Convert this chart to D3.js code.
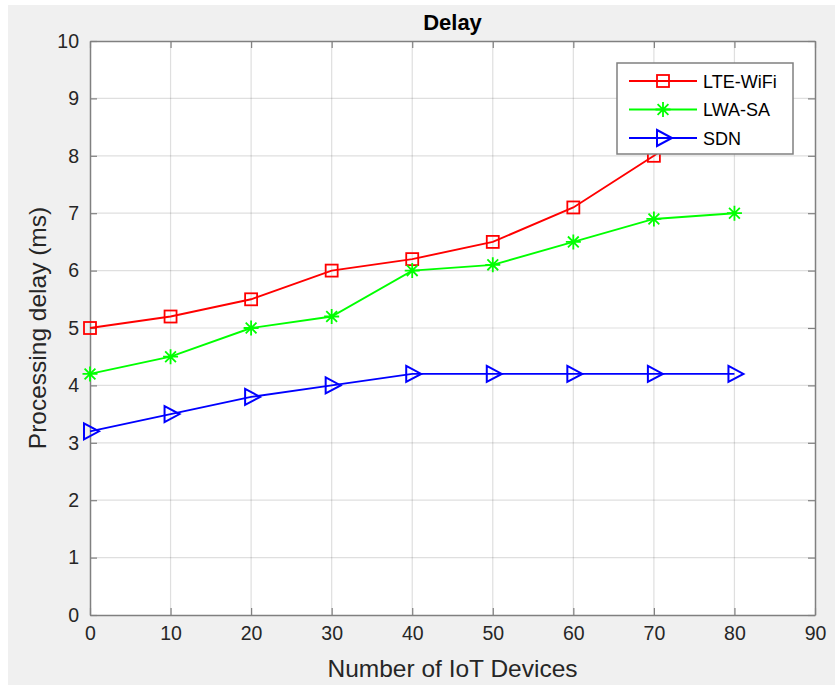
<!DOCTYPE html>
<html>
<head>
<meta charset="utf-8">
<script src="https://cdn.jsdelivr.net/npm/d3@7"></script>
<style>
  html, body { margin: 0; padding: 0; background: #fff; }
  svg { display: block; font-family: "Liberation Sans", Arial, Helvetica, sans-serif; }
</style>
</head>
<body>
<script>
const devices = [0, 10, 20, 30, 40, 50, 60, 70, 80];
const lteWifi = [5.0, 5.2, 5.5, 6.0, 6.2, 6.5, 7.1, 8.0, 9.0];
const lwaSa = [4.2, 4.5, 5.0, 5.2, 6.0, 6.1, 6.5, 6.9, 7.0];
const sdn = [3.2, 3.5, 3.8, 4.0, 4.2, 4.2, 4.2, 4.2, 4.2];
const xTicks = d3.range(0, 91, 10);
const yTicks = d3.range(0, 11, 1);

const series = [
  {name: "LTE-WiFi", values: lteWifi, color: "#ff0000", marker: "square"},
  {name: "LWA-SA", values: lwaSa, color: "#00ff00", marker: "star"},
  {name: "SDN", values: sdn, color: "#0000ff", marker: "tri"}
];

const width = 835, height = 685;
const margin = {left: 90, right: 20, top: 41, bottom: 70};

const svg = d3.select("body").append("svg")
  .attr("width", width)
  .attr("height", height);

// figure background (grey, with thin white border like the screenshot)
svg.append("rect").attr("x", 8).attr("y", 5)
  .attr("width", width - 8).attr("height", height - 5)
  .attr("fill", "#f0f0f0");

const x = d3.scaleLinear().domain([0, 90]).range([margin.left, width - margin.right]);
const y = d3.scaleLinear().domain([0, 10]).range([height - margin.bottom, margin.top]);

svg.append("rect")
  .attr("x", x(0)).attr("y", y(10))
  .attr("width", x(90) - x(0)).attr("height", y(0) - y(10))
  .attr("fill", "#fff");

// grid
const grid = svg.append("g").attr("stroke", "#262626").attr("stroke-opacity", 0.15).attr("stroke-width", 1.2);
grid.selectAll(".gx").data(xTicks.slice(1, -1)).enter().append("line")
  .attr("x1", d => x(d)).attr("x2", d => x(d))
  .attr("y1", y(0)).attr("y2", y(10));
grid.selectAll(".gy").data(yTicks.slice(1, -1)).enter().append("line")
  .attr("y1", d => y(d)).attr("y2", d => y(d))
  .attr("x1", x(0)).attr("x2", x(90));

// axes: ticks inward, box
const tickLen = 7;
const axisColor = "#808080";
const xAxis = d3.axisBottom(x).tickValues(xTicks).tickSizeInner(-tickLen).tickSizeOuter(0).tickPadding(11);
const yAxis = d3.axisLeft(y).tickValues(yTicks).tickSizeInner(-tickLen).tickSizeOuter(0).tickPadding(11);
const xTop = d3.axisTop(x).tickValues(xTicks).tickSizeInner(-tickLen).tickSizeOuter(0).tickFormat("");
const yRight = d3.axisRight(y).tickValues(yTicks).tickSizeInner(-tickLen).tickSizeOuter(0).tickFormat("");

function styleAxis(g) {
  g.selectAll("path").attr("stroke", axisColor).attr("stroke-width", 1.5);
  g.selectAll("line").attr("stroke", axisColor).attr("stroke-width", 1.2);
  g.selectAll("text").attr("fill", "#262626").attr("font-size", 19.5)
    .attr("font-family", "Liberation Sans, Arial, sans-serif");
}

svg.append("g").attr("transform", `translate(0,${y(0)})`).call(xAxis).call(styleAxis);
svg.append("g").attr("transform", `translate(${x(0)},0)`).call(yAxis).call(styleAxis);
svg.append("g").attr("transform", `translate(0,${y(10)})`).call(xTop).call(styleAxis);
svg.append("g").attr("transform", `translate(${x(90)},0)`).call(yRight).call(styleAxis);

// title and labels
svg.append("text").attr("x", (x(0) + x(90)) / 2).attr("y", 30)
  .attr("text-anchor", "middle").attr("font-size", 22).attr("font-weight", "bold")
  .attr("fill", "#000").text("Delay");
svg.append("text").attr("x", (x(0) + x(90)) / 2).attr("y", 677)
  .attr("text-anchor", "middle").attr("font-size", 24.5).attr("fill", "#262626")
  .text("Number of IoT Devices");
svg.append("text")
  .attr("transform", `translate(46,${(y(0) + y(10)) / 2}) rotate(-90)`)
  .attr("text-anchor", "middle").attr("font-size", 24.5).attr("fill", "#262626")
  .text("Processing delay (ms)");

// markers
function drawMarker(g, type, color) {
  if (type === "square") {
    g.append("rect").attr("x", -6).attr("y", -6).attr("width", 12).attr("height", 12)
      .attr("fill", "none").attr("stroke", color).attr("stroke-width", 1.8);
  } else if (type === "star") {
    const r = 7.5, d = r * 0.72;
    const p = `M${-r},0L${r},0M0,${-r}L0,${r}M${-d},${-d}L${d},${d}M${-d},${d}L${d},${-d}`;
    g.append("path").attr("d", p).attr("stroke", color).attr("stroke-width", 1.8).attr("fill", "none");
  } else {
    g.append("path").attr("d", "M-6,-8L9,0L-6,8Z")
      .attr("fill", "none").attr("stroke", color).attr("stroke-width", 2);
  }
}

const line = d3.line().x((d, i) => x(devices[i])).y(d => y(d));
const plot = svg.append("g");
series.forEach(s => {
  plot.append("path").datum(s.values).attr("d", line)
    .attr("fill", "none").attr("stroke", s.color).attr("stroke-width", 1.9);
  s.values.forEach((v, i) => {
    drawMarker(plot.append("g").attr("transform", `translate(${x(devices[i])},${y(v)})`), s.marker, s.color);
  });
});

// legend
const leg = svg.append("g").attr("transform", "translate(617,63)");
leg.append("rect").attr("width", 176).attr("height", 91)
  .attr("fill", "#fff").attr("stroke", "#808080").attr("stroke-width", 1.5);
series.forEach((s, i) => {
  const gy = 18 + i * 28.5;
  leg.append("line").attr("x1", 12).attr("x2", 80).attr("y1", gy).attr("y2", gy)
    .attr("stroke", s.color).attr("stroke-width", 1.9);
  drawMarker(leg.append("g").attr("transform", `translate(46,${gy})`), s.marker, s.color);
  leg.append("text").attr("x", 86).attr("y", gy + 6.5).attr("font-size", 18)
    .attr("fill", "#000").text(s.name);
});
</script>
</body>
</html>
